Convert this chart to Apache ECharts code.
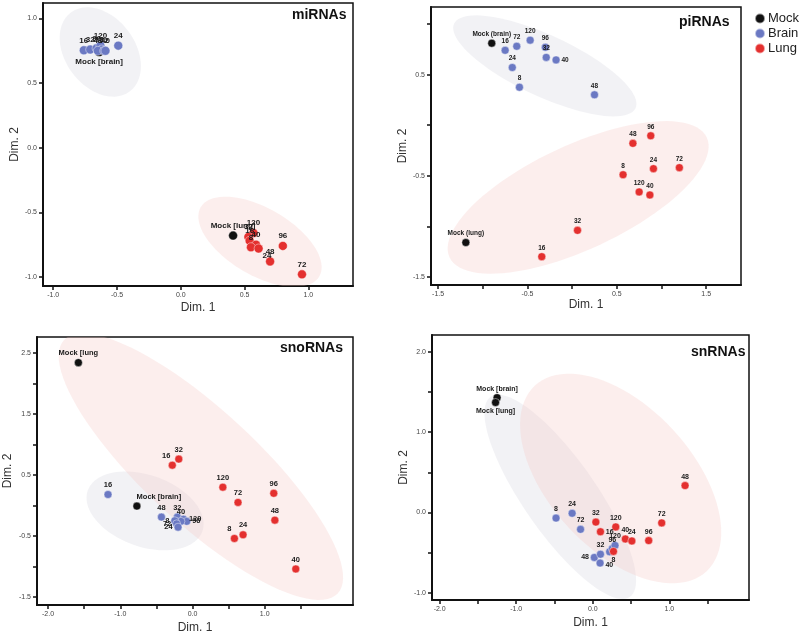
<!DOCTYPE html>
<html>
<head>
<meta charset="utf-8">
<script src="https://cdn.jsdelivr.net/npm/echarts@6/dist/echarts.min.js"></script>
<style>html,body{margin:0;padding:0;background:#fff}#c{width:800px;height:635px}</style>
</head>
<body>
<div id="c"></div>
<script>
// ---------- DATA: [Dim1, Dim2, label] ----------
const groups = ['Mock', 'Brain', 'Lung'];
const panelTitles = ['miRNAs', 'piRNAs', 'snoRNAs', 'snRNAs'];

const miMock = [[-0.64, 0.74, 'Mock [brain]'], [0.41, -0.68, 'Mock [lung]']];
const miBrain = [[-0.76, 0.754, '16'], [-0.71, 0.76, '32'], [-0.66, 0.77, '96'], [-0.63, 0.79, '120'], [-0.62, 0.76, '8'],
                 [-0.65, 0.75, '48'], [-0.60, 0.75, '72'], [-0.59, 0.75, '40'], [-0.49, 0.79, '24']];
const miLung = [[0.57, -0.66, '120'], [0.53, -0.69, '32'], [0.54, -0.72, '16'], [0.59, -0.75, '40'], [0.55, -0.77, '8'],
                [0.61, -0.78, '24'], [0.70, -0.88, '48'], [0.95, -0.98, '72'], [0.80, -0.76, '96']];

const piMock = [[-0.90, 0.81, 'Mock (brain)'], [-1.19, -1.16, 'Mock (lung)']];
const piBrain = [[-0.75, 0.74, '16'], [-0.62, 0.78, '72'], [-0.47, 0.84, '120'], [-0.30, 0.77, '96'], [-0.29, 0.67, '32'],
                 [-0.18, 0.645, '40'], [-0.67, 0.57, '24'], [-0.59, 0.375, '8'], [0.25, 0.30, '48']];
const piLung = [[0.68, -0.18, '48'], [0.88, -0.105, '96'], [0.57, -0.49, '8'], [0.91, -0.43, '24'], [1.20, -0.42, '72'],
                [0.75, -0.66, '120'], [0.87, -0.69, '40'], [0.06, -1.04, '32'], [-0.34, -1.30, '16']];

const snoMock = [[-1.58, 2.34, 'Mock [lung'], [-0.77, -0.01, 'Mock [brain]']];
const snoBrain = [[-1.17, 0.18, '16'], [-0.43, -0.19, '48'], [-0.21, -0.19, '32'], [-0.125, -0.225, '120'], [-0.08, -0.26, '96'],
                  [-0.16, -0.26, '40'], [-0.245, -0.25, '8'], [-0.22, -0.30, '72'], [-0.20, -0.355, '24']];
const snoLung = [[-0.28, 0.66, '16'], [-0.19, 0.76, '32'], [0.42, 0.30, '120'], [0.63, 0.05, '72'], [1.125, 0.20, '96'],
                 [1.14, -0.24, '48'], [0.70, -0.48, '24'], [0.58, -0.54, '8'], [1.43, -1.04, '40']];

const snMock = [[-1.25, 1.43, 'Mock [brain]'], [-1.27, 1.37, 'Mock [lung]']];
const snBrain = [[-0.48, -0.07, '8'], [-0.27, -0.01, '24'], [-0.16, -0.21, '72'], [0.02, -0.56, '48'], [0.10, -0.52, '32'],
                 [0.095, -0.63, '40'], [0.22, -0.49, '16'], [0.255, -0.45, '96'], [0.29, -0.41, '120']];
const snLung = [[0.04, -0.12, '32'], [0.10, -0.24, '16'], [0.30, -0.18, '120'], [0.425, -0.33, '40'], [0.51, -0.355, '24'],
                [0.73, -0.35, '96'], [0.90, -0.13, '72'], [1.205, 0.335, '48'], [0.27, -0.485, '8']];

// confidence ellipses: [centerX, centerY, axisA_x, axisA_y, axisB_x, axisB_y]
const miEllBrain = [[-0.631, 0.741, 0.230, -0.306, -0.220, -0.161]];
const miEllLung  = [[0.621, -0.728, 0.465, -0.267, -0.131, -0.225]];
const piEllBrain = [[-0.306, 0.586, 1.015, -0.418, -0.146, -0.273]];
const piEllLung  = [[0.067, -0.714, 1.440, 0.592, 0.246, -0.467]];
const snoEllBrain = [[-0.657, -0.089, 0.792, -0.338, -0.171, -0.550]];
const snoEllLung  = [[0.116, 0.636, 1.894, -2.076, -0.537, -0.676]];
const snEllBrain = [[-0.425, 0.195, 0.910, -1.245, -0.390, -0.261]];
const snEllLung  = [[0.364, 0.423, 1.123, -1.154, -0.681, -0.610]];

// axis ranges, ticks and tick labels
const xRanges = [[-1.08, 1.35], [-1.58, 1.89], [-2.153, 2.222], [-2.10, 2.04]];
const yRanges = [[-1.07, 1.12], [-1.58, 1.168], [-1.63, 2.76], [-1.09, 2.21]];
const xTicks = [[-1, -0.5, 0, 0.5, 1], [-1.5, -1, -0.5, 0, 0.5, 1, 1.5], [-2, -1.5, -1, -0.5, 0, 0.5, 1, 1.5], [-2, -1.5, -1, -0.5, 0, 0.5, 1, 1.5]];
const xTickLabels = [[-1, -0.5, 0, 0.5, 1], [-1.5, -0.5, 0.5, 1.5], [-2, -1, 0, 1], [-2, -1, 0, 1]];
const yTicks = [[-1, -0.5, 0, 0.5, 1], [-1.5, -1, -0.5, 0, 0.5, 1], [-1.5, -1, -0.5, 0, 0.5, 1, 1.5, 2, 2.5], [-1, -0.5, 0, 0.5, 1, 1.5, 2]];
const yTickLabels = [[-1, -0.5, 0, 0.5, 1], [-1.5, -0.5, 0.5], [-1.5, -0.5, 0.5, 1.5, 2.5], [-1, 0, 1, 2]];

// ---------- STYLE ----------
const colors = { Mock: '#111111', Brain: '#6b79c3', Lung: '#e4302f' };
const ellColors = { Brain: 'rgba(222,222,230,0.38)', Lung: 'rgba(244,200,195,0.3)' };
const grids = [
  { left: 43, top: 3, width: 310, height: 283 },
  { left: 431, top: 7, width: 310, height: 278 },
  { left: 37, top: 337, width: 316, height: 268 },
  { left: 432, top: 335, width: 317, height: 265 }
];
const titlePos = [[292, 8], [679, 15], [280, 341], [691, 345]];
const xNameGap = [16, 14, 17, 17];
const yNameGap = [22, 17, 23, 19];
const symSize = [9, 8, 8, 8];
const lblSize = [8, 6.5, 7.5, 7];
const labelOverrides = [
  { 'Mock|Mock [brain]': { position: 'bottom' }, 'Lung|24': { position: 'right', offset: [-2, 7] } },
  { 'Brain|40': { position: 'right' } },
  { 'Mock|Mock [brain]': { position: 'top', offset: [22, 0] }, 'Lung|16': { position: 'top', offset: [-6, 0] },
    'Lung|8': { position: 'top', offset: [-5, 0] }, 'Brain|8': { position: 'left' }, 'Brain|72': { position: 'left' },
    'Brain|24': { position: 'left' }, 'Brain|120': { position: 'right' }, 'Brain|96': { position: 'right' } },
  { 'Mock|Mock [lung]': { position: 'bottom' }, 'Brain|48': { position: 'left' }, 'Brain|40': { position: 'right', offset: [0, 2] },
    'Brain|16': { show: false }, 'Lung|16': { position: 'right' }, 'Lung|8': { position: 'bottom' } }
];

const panelData = [
  { Mock: miMock, Brain: miBrain, Lung: miLung, ell: { Brain: miEllBrain, Lung: miEllLung } },
  { Mock: piMock, Brain: piBrain, Lung: piLung, ell: { Brain: piEllBrain, Lung: piEllLung } },
  { Mock: snoMock, Brain: snoBrain, Lung: snoLung, ell: { Brain: snoEllBrain, Lung: snoEllLung } },
  { Mock: snMock, Brain: snBrain, Lung: snLung, ell: { Brain: snEllBrain, Lung: snEllLung } }
];

function renderEllipse(params, api) {
  const cx = api.value(0), cy = api.value(1), ax = api.value(2), ay = api.value(3), bx = api.value(4), by = api.value(5);
  const pts = [];
  for (let i = 0; i < 96; i++) {
    const t = i / 96 * Math.PI * 2;
    pts.push(api.coord([cx + ax * Math.cos(t) + bx * Math.sin(t), cy + ay * Math.cos(t) + by * Math.sin(t)]));
  }
  const cs = params.coordSys;
  return {
    type: 'polygon', shape: { points: pts }, style: { fill: api.visual('color') },
    clipPath: { type: 'rect', shape: { x: cs.x, y: cs.y, width: cs.width, height: cs.height } }
  };
}

const xAxes = [], yAxes = [], series = [], titles = [];
const fmt = v => Number(v).toFixed(1);
for (let i = 0; i < 4; i++) {
  const common = {
    gridIndex: i, type: 'value', nameLocation: 'middle',
    nameTextStyle: { fontSize: 12, color: '#333', fontFamily: 'Liberation Sans' },
    axisLine: { show: true, onZero: false, lineStyle: { color: '#111', width: 2 } },
    splitLine: { show: false }
  };
  xAxes.push(Object.assign({}, common, {
    min: xRanges[i][0], max: xRanges[i][1], name: 'Dim. 1', nameGap: xNameGap[i],
    axisTick: { show: true, length: 4, customValues: xTicks[i], lineStyle: { color: '#111', width: 1.5 } },
    axisLabel: { customValues: xTickLabels[i], formatter: fmt, fontSize: 7, color: '#444', margin: 6, fontFamily: 'Liberation Sans' }
  }));
  yAxes.push(Object.assign({}, common, {
    min: yRanges[i][0], max: yRanges[i][1], name: 'Dim. 2', nameGap: yNameGap[i],
    axisTick: { show: true, length: 4, customValues: yTicks[i], lineStyle: { color: '#111', width: 1.5 } },
    axisLabel: { customValues: yTickLabels[i], formatter: fmt, fontSize: 7, color: '#444', margin: 6, fontFamily: 'Liberation Sans' }
  }));
  titles.push({
    text: panelTitles[i], left: titlePos[i][0], top: titlePos[i][1], padding: 0,
    textStyle: { fontSize: 14, fontWeight: 'bold', color: '#111', fontFamily: 'Liberation Sans' }
  });
  const pd = panelData[i];
  ['Brain', 'Lung'].forEach(g => {
    series.push({
      type: 'custom', xAxisIndex: i, yAxisIndex: i, renderItem: renderEllipse, silent: true, z: 1,
      itemStyle: { color: ellColors[g] }, data: pd.ell[g]
    });
  });
  groups.forEach(g => {
    series.push({
      name: g, type: 'scatter', xAxisIndex: i, yAxisIndex: i, z: 3,
      symbolSize: symSize[i],
      itemStyle: { color: colors[g], opacity: 1, borderColor: 'rgba(255,255,255,0.55)', borderWidth: 0.8 },
      label: {
        show: true, position: 'top', distance: 1, formatter: p => p.name,
        fontSize: lblSize[i], fontWeight: 'bold', color: '#1a1a1a', fontFamily: 'Liberation Sans'
      },
      data: pd[g].map(d => {
        const o = { value: [d[0], d[1]], name: d[2] };
        const ov = labelOverrides[i][g + '|' + d[2]];
        if (ov) o.label = ov;
        return o;
      })
    });
  });
}

const chart = echarts.init(document.getElementById('c'), null, { renderer: 'canvas' });
chart.setOption({
  animation: false,
  backgroundColor: '#fff',
  title: titles,
  legend: {
    data: groups, orient: 'vertical', left: 754, top: 12, icon: 'circle',
    itemWidth: 10, itemHeight: 10, itemGap: 2, padding: 0, selectedMode: false,
    textStyle: { fontSize: 13, color: '#222', lineHeight: 13, fontFamily: 'Liberation Sans', padding: [0, 0, 0, -2] }
  },
  grid: grids.map(g => Object.assign({ show: true, borderColor: '#111', borderWidth: 1.5 }, g)),
  xAxis: xAxes,
  yAxis: yAxes,
  series: series
});
</script>
</body>
</html>
